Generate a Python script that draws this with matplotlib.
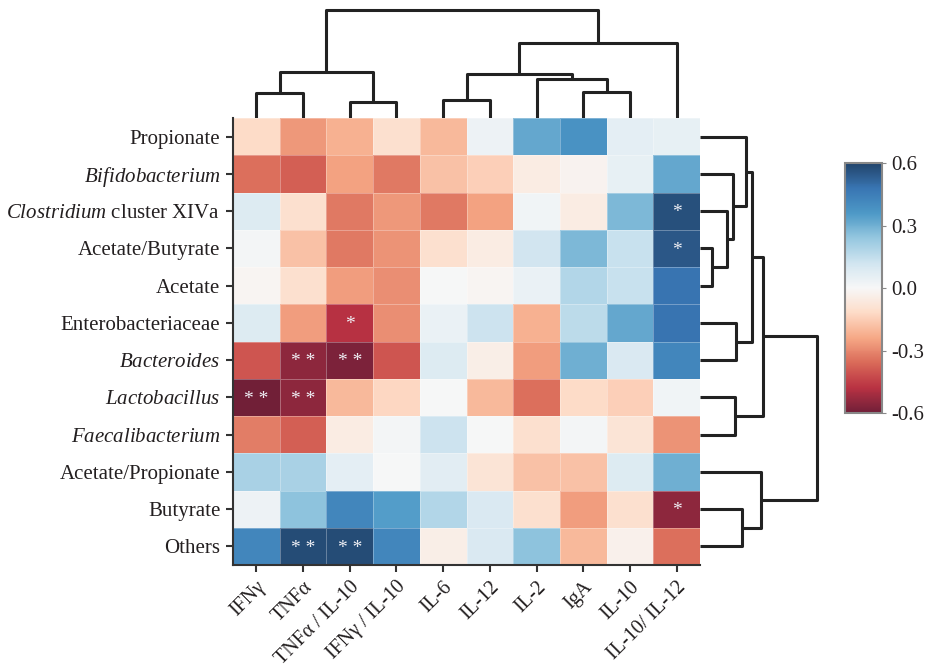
import numpy as np
import matplotlib.pyplot as plt
from matplotlib.colors import ListedColormap, rgb_to_hsv, hsv_to_rgb

plt.rcParams['font.family'] = 'Liberation Serif'
plt.rcParams['mathtext.fontset'] = 'custom'
plt.rcParams['mathtext.rm'] = 'Liberation Serif'
plt.rcParams['mathtext.it'] = 'Liberation Serif:italic'
plt.rcParams['axes.unicode_minus'] = False

# rows / columns in dendrogram order
rows = ["Propionate", r"$\mathit{Bifidobacterium}$", r"$\mathit{Clostridium}$ cluster XIVa",
        "Acetate/Butyrate", "Acetate", "Enterobacteriaceae", r"$\mathit{Bacteroides}$",
        r"$\mathit{Lactobacillus}$", r"$\mathit{Faecalibacterium}$", "Acetate/Propionate",
        "Butyrate", "Others"]
cols = ["IFNγ", "TNFα", "TNFα / IL-10", "IFNγ / IL-10", "IL-6", "IL-12", "IL-2", "IgA",
        "IL-10", "IL-10/ IL-12"]

corr = np.array([
    [-0.12, -0.27, -0.22, -0.10, -0.20,  0.03,  0.32,  0.38,  0.06,  0.05],
    [-0.35, -0.38, -0.25, -0.33, -0.18, -0.15, -0.05, -0.02,  0.05,  0.32],
    [ 0.08, -0.10, -0.33, -0.27, -0.33, -0.25,  0.02, -0.05,  0.28,  0.57],
    [ 0.01, -0.18, -0.33, -0.28, -0.10, -0.05,  0.12,  0.28,  0.14,  0.55],
    [-0.01, -0.10, -0.26, -0.29,  0.00, -0.01,  0.04,  0.18,  0.14,  0.48],
    [ 0.08, -0.26, -0.48, -0.29,  0.04,  0.13, -0.22,  0.16,  0.32,  0.48],
    [-0.40, -0.55, -0.58, -0.40,  0.08, -0.04, -0.26,  0.30,  0.09,  0.42],
    [-0.60, -0.55, -0.20, -0.13,  0.00, -0.20, -0.35, -0.12, -0.15,  0.02],
    [-0.32, -0.38, -0.05,  0.01,  0.13,  0.00, -0.10,  0.01, -0.08, -0.28],
    [ 0.20,  0.20,  0.06,  0.00,  0.07, -0.08, -0.18, -0.18,  0.08,  0.30],
    [ 0.03,  0.25,  0.42,  0.35,  0.18,  0.09, -0.10, -0.26, -0.10, -0.55],
    [ 0.42,  0.58,  0.58,  0.42, -0.04,  0.09,  0.25, -0.20, -0.03, -0.35],
])

# significance marks (row, col, text)
stars = [(2, 9, '*'), (3, 9, '*'), (5, 2, '*'), (6, 1, '* *'), (6, 2, '* *'),
         (7, 0, '* *'), (7, 1, '* *'), (10, 9, '*'), (11, 1, '* *'), (11, 2, '* *')]

# dendrograms as nested (left, right, height)
col_tree = (((0, 1, 25), (2, 3, 16), 46),
            ((((4, 5, 18), (6, (7, 8, 26), 39), 44)), 9, 75), 108)
row_tree = (((0, (1, (2, (3, 4, 12), 27), 33), 46), (5, 6, 36), 52), (7, 8, 35), 63)
row_tree = (row_tree, (9, (10, 11, 42), 61), 117)


def draw_tree(ax, node, vertical):
    if isinstance(node, int):
        return node + 0.5, 0
    left, right, h = node
    p1, h1 = draw_tree(ax, left, vertical)
    p2, h2 = draw_tree(ax, right, vertical)
    pos = [p1, p1, p2, p2]
    hts = [h1, h, h, h2]
    if vertical:
        ax.plot(pos, hts, color='#222222', lw=2.2, solid_capstyle='butt')
    else:
        ax.plot(hts, pos, color='#222222', lw=2.2, solid_capstyle='butt')
    return (p1 + p2) / 2, h


# RdBu with the dark ends muted, like the printed figure
t = np.linspace(0, 1, 256)
hsv = rgb_to_hsv(plt.get_cmap('RdBu')(t)[:, :3])
hsv[:, 1] *= 1 - 0.27 * np.abs(2 * t - 1) ** 2.5
hsv[:, 2] = np.clip(hsv[:, 2] + 0.04 * np.abs(2 * t - 1) ** 2, 0, 1)
cmap = ListedColormap(hsv_to_rgb(hsv))

W, H = 927, 669
fig = plt.figure(figsize=(W / 100, H / 100), dpi=100)

hx0, hx1, hy0, hy1 = 233, 700, 118, 565
ax = fig.add_axes([hx0 / W, 1 - hy1 / H, (hx1 - hx0) / W, (hy1 - hy0) / H])
mesh = ax.pcolormesh(corr, cmap=cmap, vmin=-0.6, vmax=0.6,
                     edgecolors=(1, 1, 1, 0.3), linewidth=0.5)
ax.set_xlim(0, len(cols))
ax.set_ylim(len(rows), 0)
ax.set_xticks(np.arange(len(cols)) + 0.5)
ax.set_xticklabels(cols, rotation=45, ha='right', rotation_mode='anchor', fontsize=14.5)
ax.set_yticks(np.arange(len(rows)) + 0.5)
ax.set_yticklabels(rows, fontsize=15)
ax.tick_params(length=5, width=1.5, color='#333333', pad=4, labelcolor='#231f20')
for s in ['top', 'right']:
    ax.spines[s].set_visible(False)
for s in ['left', 'bottom']:
    ax.spines[s].set_color('#333333')
    ax.spines[s].set_linewidth(1.5)
for r, c, txt in stars:
    ax.text(c + 0.5, r + 0.55, txt, color='#f0f0f5', ha='center', va='center', fontsize=14)

# column dendrogram
axc = fig.add_axes([hx0 / W, 1 - hy0 / H, (hx1 - hx0) / W, hy0 / H])
draw_tree(axc, col_tree, True)
axc.set_xlim(0, len(cols))
axc.set_ylim(0, hy0)
axc.axis('off')

# row dendrogram
axr = fig.add_axes([hx1 / W, 1 - hy1 / H, 130 / W, (hy1 - hy0) / H])
draw_tree(axr, row_tree, False)
axr.set_ylim(len(rows), 0)
axr.set_xlim(0, 130)
axr.axis('off')

# colorbar
cax = fig.add_axes([845 / W, 1 - 413 / H, 37 / W, 250 / H])
cb = fig.colorbar(mesh, cax=cax, ticks=[-0.6, -0.3, 0.0, 0.3, 0.6], format='%.1f')
cb.outline.set_edgecolor('#888888')
cb.outline.set_linewidth(1.5)
cax.tick_params(length=3, color='#888888', labelsize=15, labelcolor='#231f20')

fig.savefig('out.png', dpi=100)
